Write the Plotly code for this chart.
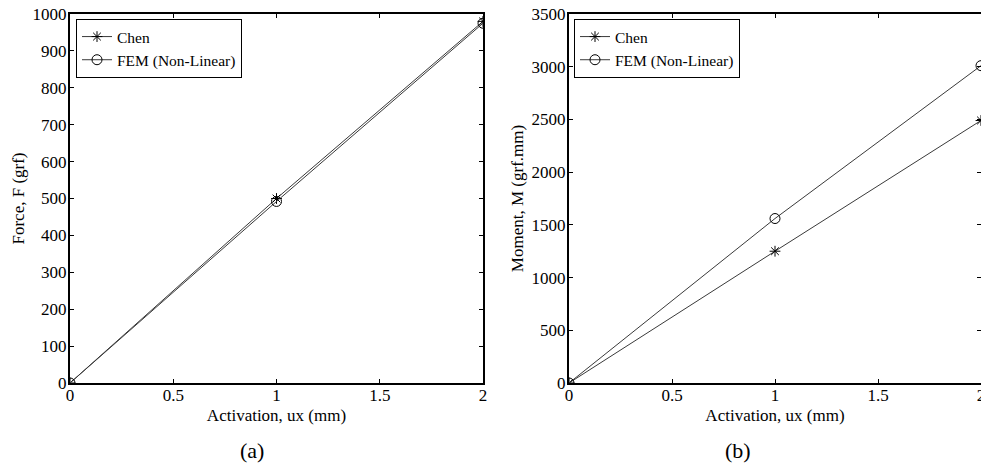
import plotly.graph_objects as go

activation = [0, 1, 2]
force_chen = [0, 500, 980]
force_fem = [0, 492, 975]
moment_chen = [0, 1250, 2490]
moment_fem = [0, 1560, 3010]

FONT = "Liberation Serif, Times New Roman, serif"
W, H = 981, 465
LINE = dict(color="#3a3a3a", width=1)

fig = go.Figure()

def mk(symbol, size):
    return dict(symbol=symbol, size=size, color="black", line=dict(color="black", width=1))

fig.add_trace(go.Scatter(x=activation, y=force_chen, mode="lines+markers", name="Chen",
                         line=LINE, marker=mk("asterisk-open", 9),
                         xaxis="x", yaxis="y", legend="legend"))
fig.add_trace(go.Scatter(x=activation, y=force_fem, mode="lines+markers", name="FEM (Non-Linear)",
                         line=LINE, marker=mk("circle-open", 10),
                         xaxis="x", yaxis="y", legend="legend"))
fig.add_trace(go.Scatter(x=activation, y=moment_chen, mode="lines+markers", name="Chen",
                         line=LINE, marker=mk("asterisk-open", 9),
                         xaxis="x2", yaxis="y2", legend="legend2"))
fig.add_trace(go.Scatter(x=activation, y=moment_fem, mode="lines+markers", name="FEM (Non-Linear)",
                         line=LINE, marker=mk("circle-open", 10),
                         xaxis="x2", yaxis="y2", legend="legend2"))

ydom = [1 - 383 / H, 1 - 14 / H]
common_x = dict(range=[0, 2], tickvals=[0, 0.5, 1, 1.5, 2], ticktext=["0", "0.5", "1", "1.5", "2"],
                ticks="inside", ticklen=4, tickwidth=1, tickcolor="black",
                showline=True, linecolor="black", linewidth=2, mirror="ticks",
                showgrid=False, zeroline=False, automargin=False, ticklabeloverflow="allow",
                ticklabelstandoff=-4,
                tickfont=dict(family=FONT, size=17, color="black"),
                title=dict(text="Activation, ux (mm)", font=dict(family=FONT, size=17, color="black"),
                           standoff=5))
common_y = dict(ticks="inside", ticklen=4, tickwidth=1, tickcolor="black",
                showline=True, linecolor="black", linewidth=2, mirror="ticks",
                showgrid=False, zeroline=False, automargin=False,
                ticklabelstandoff=-2,
                tickfont=dict(family=FONT, size=17, color="black"))

fig.update_layout(
    width=W, height=H,
    margin=dict(l=0, r=0, t=0, b=0, autoexpand=False),
    paper_bgcolor="white", plot_bgcolor="white",
    font=dict(family=FONT, size=17, color="black"),
    showlegend=True,
    xaxis=dict(domain=[70 / W, 483 / W], anchor="y", **common_x),
    yaxis=dict(domain=ydom, anchor="x", range=[0, 1000], dtick=100,
               title=dict(text="Force, F (grf)", font=dict(family=FONT, size=17, color="black"), standoff=4),
               **common_y),
    xaxis2=dict(domain=[569 / W, 1.0], anchor="y2", **common_x),
    yaxis2=dict(domain=ydom, anchor="x2", range=[0, 3500], dtick=500,
                title=dict(text="Moment, M (grf.mm)", font=dict(family=FONT, size=17, color="black"), standoff=4),
                **common_y),
    legend=dict(x=76 / W, y=1 - 19 / H, xanchor="left", yanchor="top",
                bgcolor="white", bordercolor="black", borderwidth=1,
                font=dict(family=FONT, size=15.5, color="black"),
                tracegroupgap=0, itemwidth=30),
    legend2=dict(x=574 / W, y=1 - 19 / H, xanchor="left", yanchor="top",
                 bgcolor="white", bordercolor="black", borderwidth=1,
                 font=dict(family=FONT, size=15.5, color="black"),
                 tracegroupgap=0, itemwidth=30),
    annotations=[
        dict(text="(a)", x=252 / W, y=1 - 450 / H, xref="paper", yref="paper",
             xanchor="center", yanchor="middle",
             showarrow=False, font=dict(family=FONT, size=22, color="black")),
        dict(text="(b)", x=738 / W, y=1 - 450 / H, xref="paper", yref="paper",
             xanchor="center", yanchor="middle",
             showarrow=False, font=dict(family=FONT, size=22, color="black")),
    ],
)

fig.write_html("out.html")
